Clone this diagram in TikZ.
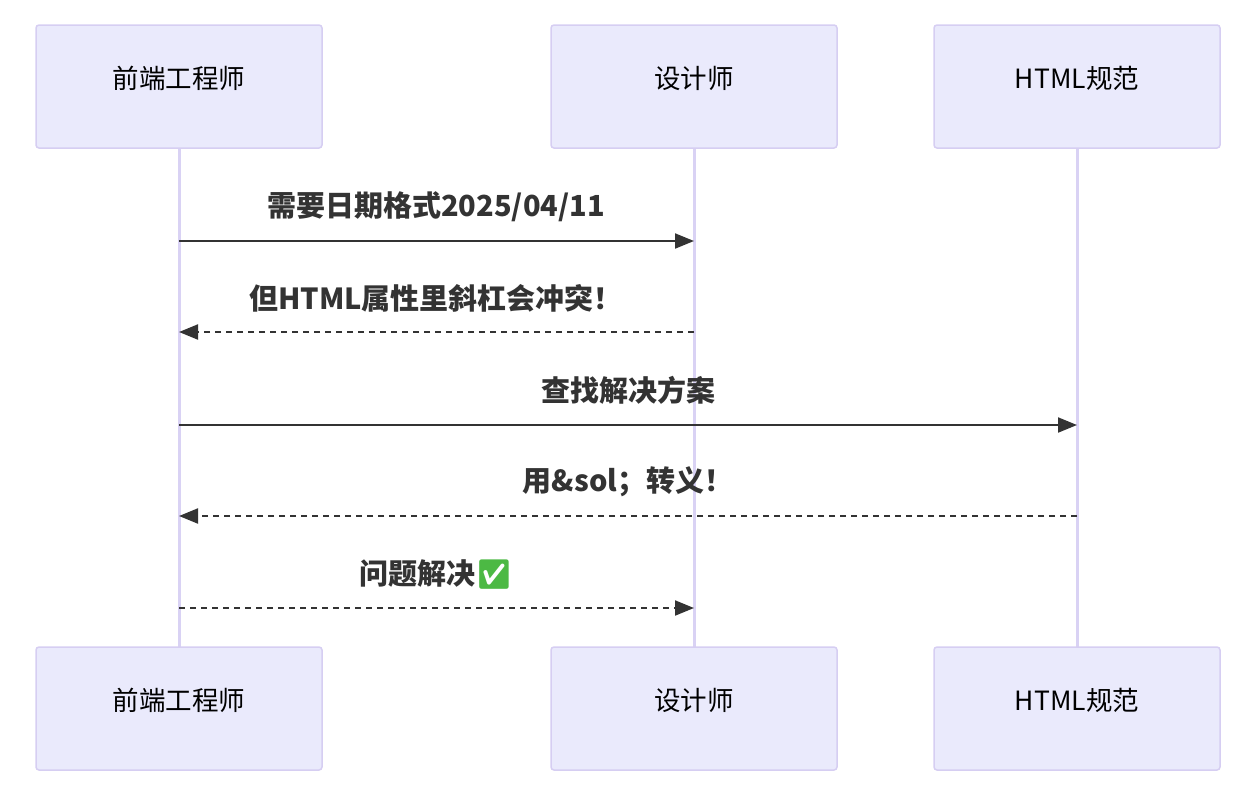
\documentclass[tikz,border=0pt]{standalone}
\usepackage{fontspec}
\setmainfont{Noto Sans CJK SC}
\newfontfamily\emo{Noto Emoji}
\usetikzlibrary{arrows.meta}
\definecolor{boxfill}{HTML}{EAEAFC}
\definecolor{boxline}{HTML}{D6CEF2}
\definecolor{life}{HTML}{D9D2F4}
\definecolor{msg}{HTML}{333333}
\definecolor{okgreen}{HTML}{4CB944}
\begin{document}
\begin{tikzpicture}[x=1pt,y=-1pt,
  actor/.style={draw=boxline,line width=1.5pt,fill=boxfill,rounded corners=3pt,minimum width=286pt,minimum height=123pt,text=black},
  atext/.style={font=\fontsize{26.5}{30}\selectfont,text=black},
  lifeline/.style={draw=life,line width=3pt},
  msgline/.style={draw=msg,line width=2pt,-{Triangle[length=19pt,width=15pt]}},
  dashmsg/.style={dash pattern=on 6pt off 5pt},
  lbl/.style={font=\fontsize{29}{34}\selectfont\bfseries,text=msg}]
\useasboundingbox (0,0) rectangle (1236,796);
\foreach \n/\x/\t in {a/179/前端工程师,b/694/设计师,c/1077/HTML规范}{
  \draw[lifeline] (\x,148) -- (\x,647);
  \node[actor] (\n t) at (\x,86.5) {};
  \node[actor] (\n b) at (\x,708.5) {};
  \node[atext] (\n tt) at (\x,78) {\t};
  \node[atext] (\n bt) at (\x,700) {\t};
}
\coordinate (a1) at (179,241); \coordinate (b1) at (694,241);
\coordinate (a2) at (179,332); \coordinate (b2) at (694,332);
\coordinate (a3) at (179,425); \coordinate (c3) at (1077,425);
\coordinate (a4) at (179,516); \coordinate (c4) at (1077,516);
\coordinate (a5) at (179,608); \coordinate (b5) at (694,608);
\draw[msgline] (a1) -- (b1);
\draw[msgline,dashmsg] (b2) -- (a2);
\draw[msgline] (a3) -- (c3);
\draw[msgline,dashmsg] (c4) -- (a4);
\draw[msgline,dashmsg] (a5) -- (b5);
\node[lbl] (l1) at (436,207) {需要日期格式2025/04/11};
\node[lbl] (l2) at (436,298) {但HTML属性里斜杠会冲突！};
\node[lbl] (l3) at (628,390) {查找解决方案};
\node[lbl] (l4) at (628,482) {用\&sol；转义！};
\node[lbl] (l5) at (436,574) {问题解决\textcolor{okgreen}{\emo ✅}};
\end{tikzpicture}
\end{document}
